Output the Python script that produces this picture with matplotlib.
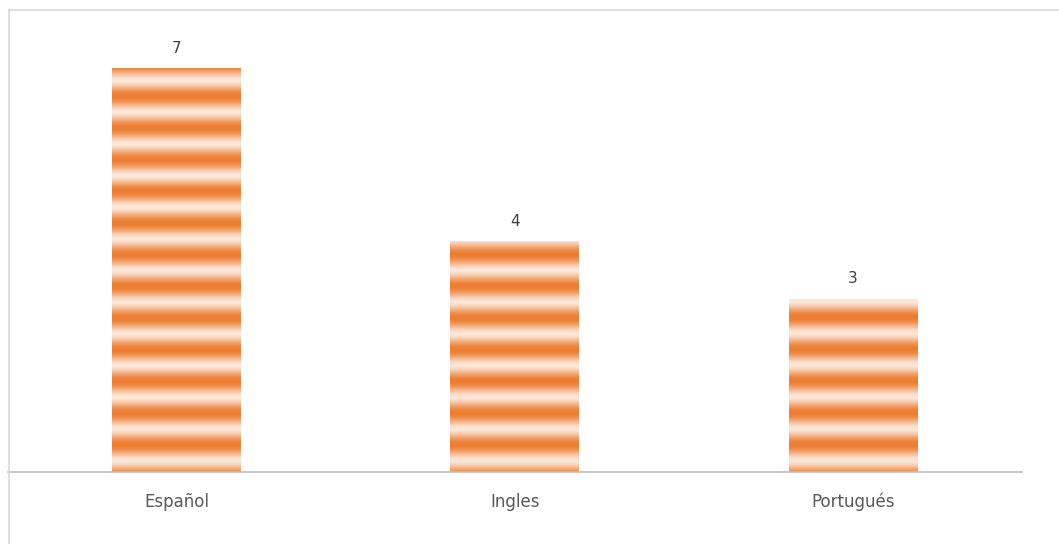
import numpy as np
import matplotlib.pyplot as plt
from matplotlib.lines import Line2D

# datos
idiomas = ['Español', 'Ingles', 'Portugués']
cantidades = [7, 4, 3]

# estilo de las franjas (en unidades del eje y)
periodo = 0.549
fase = 0.473
naranja = np.array([237, 125, 49]) / 255
claro = np.array([252, 232, 218]) / 255

W, H = 1059, 544
fig = plt.figure(figsize=(W / 100, H / 100), dpi=100)
ax = fig.add_axes([7.5 / W, (H - 472) / H, 1014.5 / W, 461.7 / H])

x = np.arange(len(idiomas))
barras = ax.bar(x, cantidades, width=0.38, color='none', edgecolor='none')

# degradado de franjas horizontales
yy = np.linspace(0, 8, 3000)
w = (1 + np.cos(2 * np.pi * (yy - fase) / periodo)) / 2
w = w ** 0.85
img = (claro[None, :] * (1 - w[:, None]) + naranja[None, :] * w[:, None])[:, None, :]

for b in barras:
    im = ax.imshow(img, extent=(-0.5, 2.5, 0, 8), origin='lower',
                   aspect='auto', interpolation='bilinear', zorder=2)
    im.set_clip_path(b)

for xi, v in zip(x, cantidades):
    ax.annotate(str(v), (xi, v), xytext=(0, 9), textcoords='offset points',
                ha='center', va='bottom', fontsize=11, color='#404040',
                family='DejaVu Sans')

ax.set_xlim(-0.5, 2.5)
ax.set_ylim(0, 8)
ax.set_xticks(x)
ax.set_xticklabels(idiomas, fontsize=12, color='#595959', family='DejaVu Sans')
ax.tick_params(axis='x', length=0, pad=15)
ax.set_yticks([])
for s in ['top', 'right', 'left']:
    ax.spines[s].set_visible(False)
ax.spines['bottom'].set_color('#BFBFBF')
ax.spines['bottom'].set_linewidth(1.2)
ax.set_facecolor('none')

# borde del área del gráfico
fig.add_artist(Line2D([8.5 / W, 8.5 / W], [0, (H - 10) / H], transform=fig.transFigure,
                      color='#D9D9D9', lw=1.2))
fig.add_artist(Line2D([8.5 / W, 1], [(H - 10) / H, (H - 10) / H], transform=fig.transFigure,
                      color='#D9D9D9', lw=1.2))

fig.savefig('out.png', dpi=100)
